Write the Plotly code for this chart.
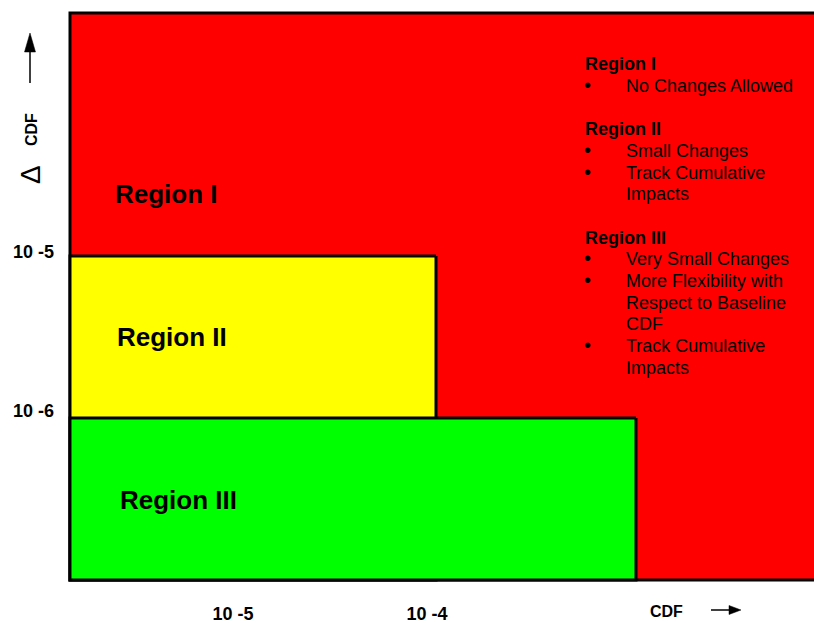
import math
import plotly.graph_objects as go

# ---- data (log10 decades) ----
region_names = ["Region I", "Region II", "Region III"]
region_colors = ["#FF0000", "#FFFF00", "#00FF00"]
region_x_right = [-2.0, -4.0, -3.0]     # log10(CDF) right edge of each region
region_y_top = [-3.5, -5.0, -6.0]       # log10(delta CDF) top edge of each region
x_left = -5.83
y_bottom = -7.0

x_tick_vals = [-5.015, -4.045]
x_tick_text = ["10 -5", "10 -4"]
y_tick_vals = [-4.975, -5.957]
y_tick_text = ["10 -5", "10 -6"]

region_notes = [
    ["No Changes Allowed"],
    ["Small Changes", "Track Cumulative<br>Impacts"],
    ["Very Small Changes", "More Flexibility with<br>Respect to Baseline<br>CDF", "Track Cumulative<br>Impacts"],
]

# ---- layout geometry (page pixels) ----
W, H = 814, 623
PX0, PX1 = 60, 814
PY0, PY1 = 4, 590
ML, MR = PX0, W - PX1
MT, MB = PY0, H - PY1
X_PER_DEC = 200.0
Y_PER_DEC = 162.0
X_REF_PX, X_REF_V = 436, -4.0
Y_REF_PX, Y_REF_V = 256, -5.0


def xv(px):
    return X_REF_V + (px - X_REF_PX) / X_PER_DEC


def yv(py):
    return Y_REF_V + (Y_REF_PX - py) / Y_PER_DEC


def pxp(px):
    return (px - PX0) / (PX1 - PX0)


def pyp(py):
    return (PY1 - py) / (PY1 - PY0)


FONT = "Liberation Sans, Arial, sans-serif"

fig = go.Figure()
fig.add_trace(go.Scatter(x=[x_left], y=[y_bottom], mode="markers",
                         marker=dict(opacity=0), hoverinfo="skip", showlegend=False))

shapes = []
for name, col, xr, yt in zip(region_names, region_colors, region_x_right, region_y_top):
    # filled region without stroke, then its outline
    shapes.append(dict(type="rect", xref="x", yref="y", x0=x_left, x1=xr,
                       y0=y_bottom, y1=yt, fillcolor=col,
                       line=dict(width=0), layer="below"))
    path = f"M{xr},{yt} L{x_left},{yt} L{x_left},{y_bottom} L{xr},{y_bottom}"
    if xr < xv(PX1):
        path += f" L{xr},{yt}"
    shapes.append(dict(type="path", xref="x", yref="y", path=path,
                       line=dict(color="black", width=3), layer="below"))


def arrow(x0, y0, x1, y1, head_len, head_w, lw):
    """Arrow from page pixel (x0,y0) to (x1,y1) drawn with paper-referenced shapes."""
    dx, dy = x1 - x0, y1 - y0
    L = math.hypot(dx, dy)
    ux, uy = dx / L, dy / L
    bx, by = x1 - ux * head_len, y1 - uy * head_len
    nx, ny = -uy, ux
    out = [dict(type="line", xref="paper", yref="paper",
                x0=pxp(x0), y0=pyp(y0), x1=pxp(bx + ux), y1=pyp(by + uy),
                line=dict(color="black", width=lw))]
    pts = [(x1, y1), (bx + nx * head_w / 2, by + ny * head_w / 2),
           (bx - nx * head_w / 2, by - ny * head_w / 2)]
    path = "M" + " L".join(f"{pxp(a):.5f},{pyp(b):.5f}" for a, b in pts) + " Z"
    out.append(dict(type="path", xref="paper", yref="paper", path=path,
                    fillcolor="black", line=dict(color="black", width=0.5)))
    return out


shapes += arrow(30, 83, 30, 33, 19, 11, 1.5)
shapes += arrow(711, 610, 741, 610, 12, 9, 1.5)

annotations = []
# region labels inside the boxes
label_pos = [(113, 194), (115, 337), (118, 500)]
for name, (lx, ly) in zip(region_names, label_pos):
    annotations.append(dict(x=xv(lx), y=yv(ly), xref="x", yref="y", text=name,
                            showarrow=False, xanchor="left", yanchor="middle",
                            font=dict(family=FONT, size=26, color="black", weight="bold")))

# explanatory list on the right
lines = []
for i, (name, notes) in enumerate(zip(region_names, region_notes)):
    if i > 0:
        lines.append(("blank", ""))
    lines.append(("head", name))
    for note in notes:
        parts = note.split("<br>")
        lines.append(("bullet", parts[0]))
        for p in parts[1:]:
            lines.append(("cont", p))

LIST_TOP, LIST_STEP = 64, 21.7
HEAD_X, BULLET_X, TEXT_X = 583, 587, 624
for k, (kind, txt) in enumerate(lines):
    py = LIST_TOP + k * LIST_STEP
    if kind == "head":
        annotations.append(dict(x=xv(HEAD_X), y=yv(py), xref="x", yref="y", text=txt,
                                showarrow=False, xanchor="left", yanchor="middle",
                                font=dict(family=FONT, size=18, color="black", weight="bold")))
    elif kind in ("bullet", "cont"):
        if kind == "bullet":
            annotations.append(dict(x=xv(BULLET_X), y=yv(py - 1), xref="x", yref="y", text="•",
                                    showarrow=False, xanchor="center", yanchor="middle",
                                    font=dict(family=FONT, size=20, color="black")))
        annotations.append(dict(x=xv(TEXT_X), y=yv(py), xref="x", yref="y", text=txt,
                                showarrow=False, xanchor="left", yanchor="middle",
                                font=dict(family=FONT, size=18, color="black")))

# y axis title (rotated)
annotations.append(dict(x=pxp(31), y=pyp(130), xref="paper", yref="paper", text="CDF",
                        textangle=-90, showarrow=False, xanchor="center", yanchor="middle",
                        font=dict(family=FONT, size=16, color="black", weight="bold")))
annotations.append(dict(x=pxp(30), y=pyp(175), xref="paper", yref="paper", text="Δ",
                        textangle=-90, showarrow=False, xanchor="center", yanchor="middle",
                        font=dict(family=FONT, size=28, color="black")))
# x axis title
annotations.append(dict(x=pxp(666), y=pyp(611), xref="paper", yref="paper", text="CDF",
                        showarrow=False, xanchor="center", yanchor="middle",
                        font=dict(family=FONT, size=16, color="black", weight="bold")))

fig.update_layout(
    width=W, height=H,
    margin=dict(l=ML, r=MR, t=MT, b=MB, pad=0, autoexpand=False),
    paper_bgcolor="white", plot_bgcolor="white",
    showlegend=False,
    shapes=shapes, annotations=annotations,
    xaxis=dict(range=[xv(PX0), xv(PX1)], showgrid=False, zeroline=False, showline=False,
               tickvals=x_tick_vals, ticktext=x_tick_text, ticks="",
               ticklabelstandoff=11, automargin=False,
               tickfont=dict(family=FONT, size=18, color="black", weight="bold"),
               fixedrange=True),
    yaxis=dict(range=[yv(PY1), yv(PY0)], showgrid=False, zeroline=False, showline=False,
               tickvals=y_tick_vals, ticktext=y_tick_text, ticks="",
               ticklabelstandoff=5, automargin=False,
               tickfont=dict(family=FONT, size=18, color="black", weight="bold"),
               fixedrange=True),
)

fig.write_html(
    "out.html",
    config={"displayModeBar": False},
    post_script="document.body.style.margin='0';document.body.style.overflow='hidden';",
)
